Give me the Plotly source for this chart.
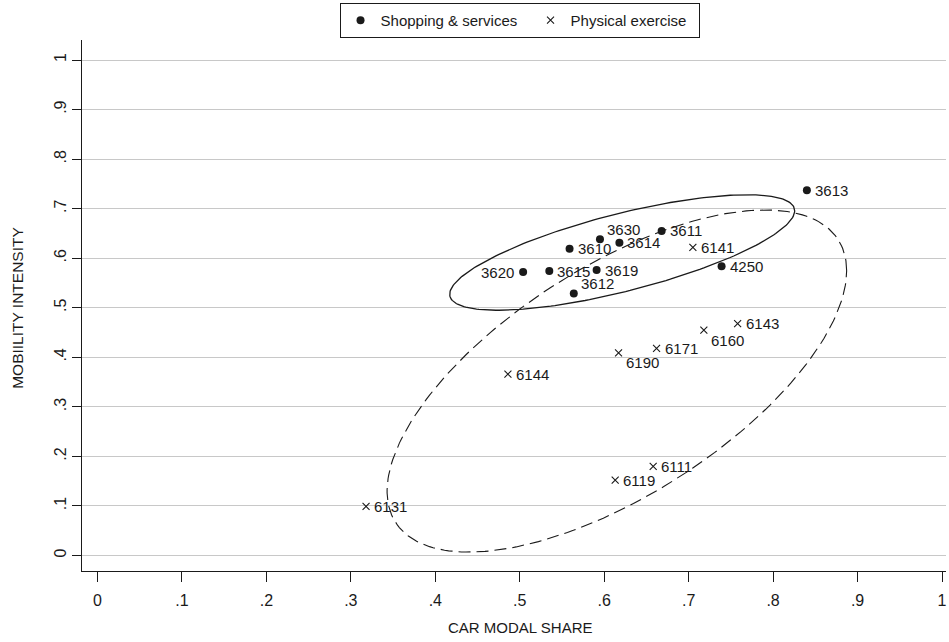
import numpy as np
import plotly.graph_objects as go

# ---- data ----
shop_ids = ["3613", "3611", "3614", "3630", "3610", "3620", "3615", "3619", "3612", "4250"]
shop_car = [0.840, 0.668, 0.618, 0.595, 0.559, 0.504, 0.535, 0.591, 0.564, 0.739]
shop_mob = [0.737, 0.655, 0.631, 0.638, 0.619, 0.572, 0.574, 0.576, 0.529, 0.584]
shop_pos = ["right", "right", "right", "top right", "right",
            "left", "right", "right", "top right", "right"]

ex_ids = ["6141", "6143", "6160", "6171", "6190", "6144", "6131", "6119", "6111"]
ex_car = [0.705, 0.758, 0.718, 0.662, 0.617, 0.486, 0.318, 0.613, 0.658]
ex_mob = [0.622, 0.468, 0.455, 0.418, 0.409, 0.366, 0.099, 0.152, 0.180]
ex_pos = ["right", "right", "bottom right", "right", "bottom right",
          "right", "right", "right", "right"]

tick_vals = [0, 0.1, 0.2, 0.3, 0.4, 0.5, 0.6, 0.7, 0.8, 0.9, 1.0]
tick_text = ["0", ".1", ".2", ".3", ".4", ".5", ".6", ".7", ".8", ".9", "1"]

ELLIPSE_K = 2.0  # ellipse = mean +/- 2 (covariance) standard deviations


def ellipse(xs, ys, k=ELLIPSE_K, n=240):
    xs = np.asarray(xs, float)
    ys = np.asarray(ys, float)
    m = np.array([xs.mean(), ys.mean()])
    cov = np.cov(np.vstack([xs, ys]), ddof=1)
    L = np.linalg.cholesky(cov)
    t = np.linspace(0, 2 * np.pi, n)
    pts = m[:, None] + k * L @ np.vstack([np.cos(t), np.sin(t)])
    return pts[0], pts[1]


FONT = "Liberation Sans, Arial, Helvetica, sans-serif"
INK = "#1a1a1a"

# label placement styles (pixel offsets, anchor)
LABEL_STYLE = {
    "right": dict(xanchor="left", xshift=7, yshift=0),
    "left": dict(xanchor="right", xshift=-8, yshift=0),
    "top right": dict(xanchor="left", xshift=6, yshift=10),
    "bottom right": dict(xanchor="left", xshift=6, yshift=-10),
}

fig = go.Figure()

ex_ex, ex_ey = ellipse(ex_car, ex_mob)
sh_ex, sh_ey = ellipse(shop_car, shop_mob)
fig.add_trace(go.Scatter(x=ex_ex, y=ex_ey, mode="lines", showlegend=False, hoverinfo="skip",
                         line=dict(color=INK, width=1.1, dash="12px,6px")))
fig.add_trace(go.Scatter(x=sh_ex, y=sh_ey, mode="lines", showlegend=False, hoverinfo="skip",
                         line=dict(color=INK, width=1.3)))

fig.add_trace(go.Scatter(x=shop_car, y=shop_mob, mode="markers", name="Shopping & services",
                         legendwidth=145,
                         marker=dict(symbol="circle", size=8, color=INK, line=dict(width=0))))
fig.add_trace(go.Scatter(x=ex_car, y=ex_mob, mode="markers", name="Physical exercise",
                         legendwidth=123,
                         marker=dict(symbol="x-thin", size=7, color=INK,
                                     line=dict(width=1.1, color=INK))))

# point labels
for ids, xs, ys, poss in [(shop_ids, shop_car, shop_mob, shop_pos),
                          (ex_ids, ex_car, ex_mob, ex_pos)]:
    for lab, xv, yv, p in zip(ids, xs, ys, poss):
        fig.add_annotation(x=xv, y=yv, xref="x", yref="y", text=lab, showarrow=False,
                           yanchor="middle", borderpad=0,
                           font=dict(family=FONT, size=15, color=INK), **LABEL_STYLE[p])

# axis titles as annotations (centred on data range)
fig.add_annotation(x=0.5, xref="x", y=-0.107, yref="paper", text="CAR MODAL SHARE",
                   showarrow=False, xanchor="center", yanchor="middle",
                   font=dict(family=FONT, size=15, color=INK))
fig.add_annotation(x=-0.074, xref="paper", y=0.5, yref="y", text="MOBIILITY INTENSITY",
                   showarrow=False, textangle=-90, xanchor="center", yanchor="middle",
                   font=dict(family=FONT, size=15.5, color=INK))

fig.update_layout(
    width=949, height=642,
    margin=dict(l=82, r=3, t=40, b=71),
    paper_bgcolor="white", plot_bgcolor="white",
    font=dict(family=FONT, size=15, color=INK),
    showlegend=True,
    legend=dict(orientation="h", x=0.5064, xanchor="center", y=1.004, yanchor="bottom",
                bordercolor=INK, borderwidth=1, bgcolor="white",
                font=dict(family=FONT, size=15, color=INK), itemwidth=30),
    xaxis=dict(range=[-0.01835, 1.00474], tickvals=tick_vals, ticktext=tick_text,
               showgrid=False, zeroline=False, showline=True, linecolor=INK, linewidth=1,
               ticks="outside", ticklen=10, tickwidth=1, tickcolor=INK,
               ticklabelstandoff=5, tickfont=dict(family=FONT, size=16, color=INK)),
    yaxis=dict(range=[-0.03128, 1.04036], tickvals=tick_vals, ticktext=tick_text,
               showgrid=True, gridcolor="#c8c8c8", gridwidth=1, zeroline=False,
               showline=True, linecolor=INK, linewidth=1,
               ticks="outside", ticklen=9, tickwidth=1, tickcolor=INK, tickangle=-90,
               ticklabelstandoff=0, tickfont=dict(family=FONT, size=16, color=INK)),
)

fig.write_html("out.html", config={"displayModeBar": False},
               post_script="document.body.style.margin='0px';")
